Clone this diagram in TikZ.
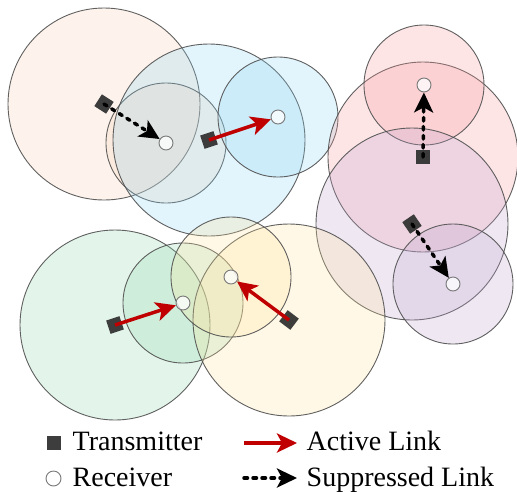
\documentclass[tikz,border=0pt]{standalone}
\usepackage{fontspec}
\newfontfamily\dummyfont{DejaVu Serif}
\newfontfamily\fb{Liberation Serif}
\usetikzlibrary{arrows.meta}
\definecolor{peach}{RGB}{247,207,179}
\definecolor{skyblue}{RGB}{140,212,242}
\definecolor{rosepink}{RGB}{247,151,155}
\definecolor{lavender}{RGB}{191,163,207}
\definecolor{mint}{RGB}{143,215,171}
\definecolor{sand}{RGB}{255,227,155}
\definecolor{bordergray}{RGB}{80,80,80}
\definecolor{txgray}{RGB}{51,51,51}
\definecolor{rxgray}{RGB}{120,120,120}
\definecolor{linkred}{RGB}{192,0,0}
\begin{document}
\begin{tikzpicture}[x=1pt,y=-1pt,
  zone/.style={draw=bordergray, line width=0.9pt, fill opacity=0.25, draw opacity=0.9},
  tx/.style={rectangle, minimum size=14pt, inner sep=0pt, fill=txgray, fill opacity=0.95},
  rx/.style={circle, minimum size=14pt, inner sep=0pt, fill=white, fill opacity=0.75, draw=rxgray, line width=0.9pt},
  active/.style={draw=linkred, line width=3.5pt, -{Stealth[length=20pt 0,width=19pt 0,inset=5pt 0]}},
  suppressed/.style={draw=black, line width=3.5pt, dash pattern=on 3.5pt off 5.5pt, line cap=round, -{Stealth[length=20pt 0,width=19pt 0,inset=5pt 0, line cap=butt]}},
  legendtext/.style={anchor=base west, inner sep=0pt, font=\fontsize{28}{32}\selectfont}]
\useasboundingbox (0,0) rectangle (517,491);
% positions
\coordinate (c1t) at (104,104); \coordinate (c1r) at (166,143);
\coordinate (c2t) at (209,140); \coordinate (c2r) at (278,117);
\coordinate (c3t) at (423,157); \coordinate (c3r) at (424,85);
\coordinate (c4t) at (412,224); \coordinate (c4r) at (453,284);
\coordinate (c5t) at (115,325); \coordinate (c5r) at (183,303);
\coordinate (c6t) at (289,320); \coordinate (c6r) at (231,277);
% coverage zones
\path[zone, fill=peach] (c1t) circle[radius=96pt];
\path[zone, fill=peach] (c1r) circle[radius=60pt];
\path[zone, fill=skyblue] (c2t) circle[radius=96pt];
\path[zone, fill=skyblue] (c2r) circle[radius=60pt];
\path[zone, fill=rosepink] (c3t) circle[radius=95pt];
\path[zone, fill=rosepink] (c3r) circle[radius=60pt];
\path[zone, fill=lavender] (c4t) circle[radius=96pt];
\path[zone, fill=lavender] (c4r) circle[radius=60pt];
\path[zone, fill=mint] (c5t) circle[radius=95pt];
\path[zone, fill=mint] (c5r) circle[radius=60pt];
\path[zone, fill=sand] (c6t) circle[radius=96pt];
\path[zone, fill=sand] (c6r) circle[radius=60pt];
% transmitters
\node[tx, rotate=-32.6] (T1) at (c1t) {};
\node[tx, rotate=18.4] (T2) at (c2t) {};
\node[tx] (T3) at (c3t) {};
\node[tx, rotate=-55.7] (T4) at (c4t) {};
\node[tx, rotate=18.7] (T5) at (c5t) {};
\node[tx, rotate=52.8] (T6) at (c6t) {};
% receivers
\node[rx] (R1) at (c1r) {};
\node[rx] (R2) at (c2r) {};
\node[rx] (R3) at (c3r) {};
\node[rx] (R4) at (c4r) {};
\node[rx] (R5) at (c5r) {};
\node[rx] (R6) at (c6r) {};
% links
\draw[suppressed] (T1.center) -- (R1);
\draw[active] (T2.center) -- (R2);
\draw[suppressed] (T3.center) -- (R3);
\draw[suppressed] (T4.center) -- (R4);
\draw[active] (T5.center) -- (R5);
\draw[active] (T6.center) -- (R6);
% legend
\node[tx] (LT) at (53.5,442.5) {};
\node[legendtext] (LTt) at (72.5,450) {\fb Transmitter};
\node[rx, minimum size=15pt] (LR) at (53.5,478.5) {};
\node[legendtext] (LRt) at (72.5,486) {\fb Receiver};
\coordinate (LA1) at (244,443); \coordinate (LA2) at (297,443);
\draw[active] (LA1) -- (LA2);
\node[legendtext] (LAt) at (306.5,450) {\fb Active Link};
\coordinate (LS1) at (244,478); \coordinate (LS2) at (297,478);
\draw[suppressed] (LS1) -- (LS2);
\node[legendtext] (LSt) at (306.5,486) {\fb Suppressed Link};
\end{tikzpicture}
\end{document}
